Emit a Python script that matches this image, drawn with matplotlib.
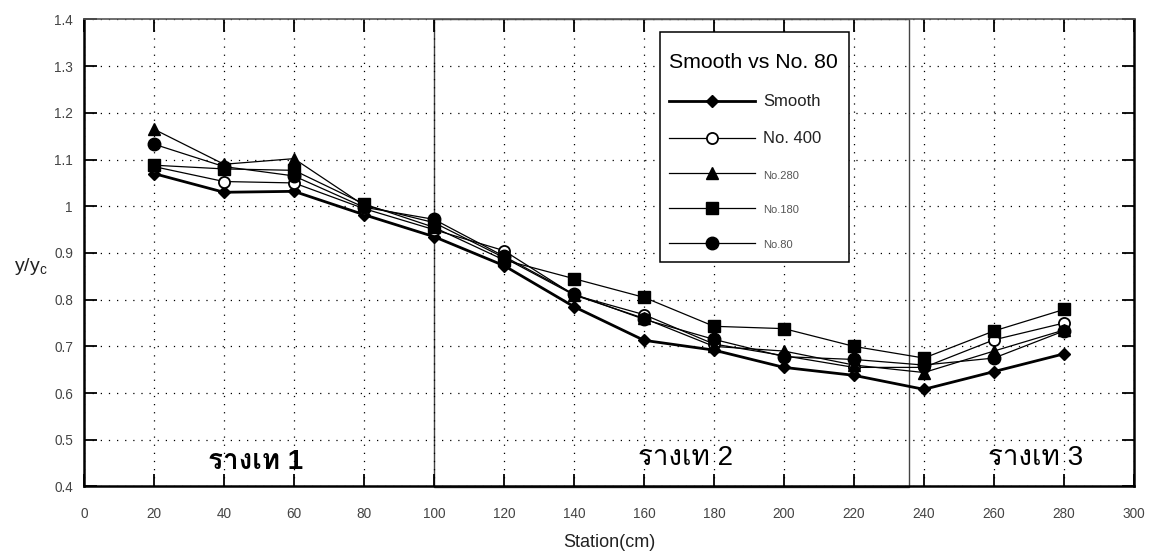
import matplotlib
matplotlib.use("Agg")
import matplotlib.pyplot as plt
from matplotlib import font_manager
from matplotlib.ft2font import FT2Font
from matplotlib.patches import Rectangle

# ----------------------------------------------------
# Data: relative depth y/yc along the flume
# ----------------------------------------------------
station = [20, 40, 60, 80, 100, 120, 140, 160, 180, 200, 220, 240, 260, 280]

smooth = [1.070, 1.030, 1.032, 0.982, 0.935, 0.873, 0.785, 0.713, 0.692, 0.655, 0.638, 0.608, 0.646, 0.684]
no400 = [1.085, 1.053, 1.050, 0.995, 0.950, 0.905, 0.810, 0.768, 0.705, 0.680, 0.655, 0.655, 0.714, 0.750]
no280 = [1.165, 1.090, 1.102, 1.002, 0.965, 0.890, 0.810, 0.760, 0.700, 0.690, 0.660, 0.644, 0.690, 0.735]
no180 = [1.088, 1.080, 1.077, 1.005, 0.955, 0.885, 0.845, 0.805, 0.743, 0.738, 0.700, 0.675, 0.733, 0.779]
no80 = [1.133, 1.085, 1.065, 0.998, 0.972, 0.893, 0.812, 0.758, 0.715, 0.678, 0.672, 0.660, 0.675, 0.733]

series_names = ["Smooth", "No. 400", "No.280", "No.180", "No.80"]
section_labels = ["รางเท 1", "รางเท 2", "รางเท 3"]
section_x = [49, 172, 272]
section_y = [0.452, 0.462, 0.460]

# ----------------------------------------------------
# Fonts: find something that can draw Thai
# ----------------------------------------------------
def has_thai(path):
    try:
        return 0x0E23 in FT2Font(path).get_charmap()
    except Exception:
        return False

thai_family = None
for f in font_manager.fontManager.ttflist:
    if has_thai(f.fname):
        thai_family = f.name
        break

plt.rcParams["font.family"] = ["Liberation Sans", "DejaVu Sans"]
label_family = ["Liberation Sans"] + ([thai_family] if thai_family else []) + ["DejaVu Sans"]

# ----------------------------------------------------
# Plot
# ----------------------------------------------------
fig = plt.figure(figsize=(11.49, 5.52), dpi=100)
ax = fig.add_axes([0.0731, 0.1187, 0.9138, 0.846])

ax.plot(station, smooth, "-D", color="black", lw=2.0, ms=6, label=series_names[0])
ax.plot(station, no400, "-o", color="black", lw=0.9, ms=8, mfc="white", mew=1.3, label=series_names[1])
ax.plot(station, no280, "-^", color="black", lw=0.9, ms=8, label=series_names[2])
ax.plot(station, no180, "-s", color="black", lw=0.9, ms=8, label=series_names[3])
ax.plot(station, no80, "-o", color="black", lw=0.9, ms=9, label=series_names[4])

ax.set_xlim(0, 300)
ax.set_ylim(0.4, 1.4)
ax.set_xticks(range(0, 301, 20))
ax.set_yticks([0.4, 0.5, 0.6, 0.7, 0.8, 0.9, 1, 1.1, 1.2, 1.3, 1.4])
ax.set_yticklabels(["0.4", "0.5", "0.6", "0.7", "0.8", "0.9", "1", "1.1", "1.2", "1.3", "1.4"])

ax.grid(True, color="black", linestyle=(0, (1, 5.5)), linewidth=0.9)
ax.tick_params(direction="in", length=9, width=1.3, top=True, right=True,
               labelsize=9.8, labelcolor="#444444", color="black")
ax.tick_params(axis="x", pad=15)
ax.tick_params(axis="y", pad=8)
for side in ["left", "bottom", "right"]:
    ax.spines[side].set_linewidth(1.8)
ax.spines["top"].set_linewidth(1.2)
ax.spines["top"].set_color("#555555")

ax.set_xlabel("Station(cm)", fontsize=13, color="#222222", labelpad=9)
ax.set_ylabel(r"y/y$_\mathregular{c}$", fontsize=14, rotation=0, color="#222222")
ax.yaxis.set_label_coords(-0.051, 0.448)

# middle flume section outline
ax.add_patch(Rectangle((100, 0.398), 135.6, 1.002, fill=False, edgecolor="#444444",
                       linewidth=1.0, clip_on=False, zorder=1))

for i, txt in enumerate(section_labels):
    ax.text(section_x[i], section_y[i], txt, ha="center", va="center", fontsize=20,
            fontweight="bold" if i == 0 else "normal", family=label_family, zorder=5)

# legend frame drawn separately so the padding can differ per side
ax.add_patch(Rectangle((0.5486, 0.4807), 0.18, 0.4925, transform=ax.transAxes,
                       facecolor="white", edgecolor="black", linewidth=1.1, zorder=6))
leg = ax.legend(loc="upper left", bbox_to_anchor=(0.5576, 0.9285), title="Smooth vs No. 80",
                fontsize=11, title_fontsize=15.3, handlelength=5.6, handletextpad=0.55,
                labelspacing=1.44, borderpad=0, borderaxespad=0, frameon=False,
                alignment="left")
leg.set_zorder(7)
leg._legend_box.sep = 16
sizes = [12, 12, 8, 8, 8]
for t, s in zip(leg.get_texts(), sizes):
    t.set_fontsize(s)
    t.set_color("#222222" if s > 9 else "#555555")

plt.savefig("out.png", dpi=100)
